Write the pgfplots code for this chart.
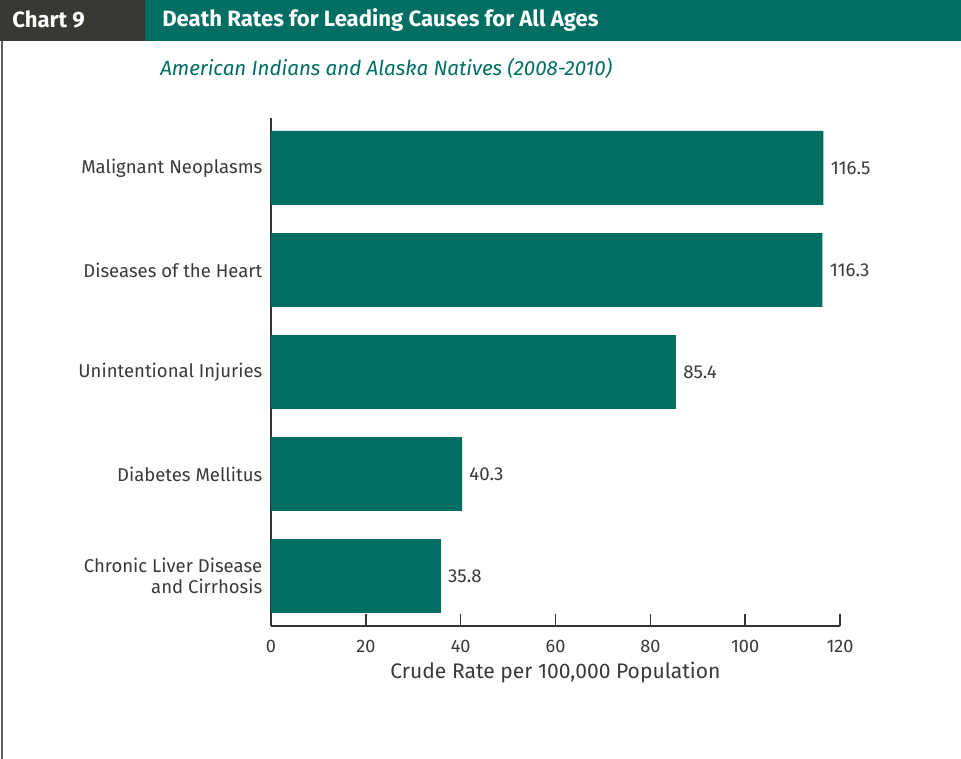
\documentclass[border=0pt]{standalone}
\usepackage{fontspec}
\setmainfont{Fira Sans}
\usepackage{pgfplots}
\pgfplotsset{compat=1.18}
\definecolor{teal}{HTML}{006E62}
\definecolor{darkbox}{HTML}{393833}
\definecolor{txt}{HTML}{3A3A3A}
\definecolor{axl}{HTML}{333333}
\begin{document}
\begin{tikzpicture}
\begin{scope}[x=0.75pt,y=0.75pt]
\useasboundingbox (0,0) rectangle (961,759);
\fill[white] (0,0) rectangle (961,759);
% header
\fill[darkbox] (0,718) rectangle (145,759);
\fill[teal] (145,718) rectangle (961,759);
\node[anchor=west,text=white,font=\fontsize{16.6}{20}\selectfont\bfseries,inner sep=0pt] at (12,739.5) {Chart 9};
\node[anchor=west,text=white,font=\fontsize{16.6}{20}\selectfont\bfseries,inner sep=0pt] at (162,739.5) {Death Rates for Leading Causes for All Ages};
\node[anchor=west,text=teal,font=\fontsize{15.4}{18}\selectfont\itshape,inner sep=0pt] at (160,691) {American Indians and Alaska Natives (2008-2010)};
% left border
\draw[color=axl!80,line width=1.5pt] (2,0) -- (2,718);
\end{scope}
\begin{axis}[
  at={(203.25pt,99.75pt)}, anchor=south west,
  scale only axis,
  width=426.75pt, height=381pt,
  xmin=0, xmax=120, ymin=-0.49, ymax=4.49,
  axis x line*=bottom, axis y line*=left,
  axis line style={color=axl,line width=1.1pt,-},
  xtick={0,20,40,60,80,100,120},
  tick align=inside,
  major tick length=9pt,
  xtick style={color=axl,line width=1.1pt},
  ytick={0,1,2,3,4},
  ytick style={draw=none},
  yticklabels={{Chronic Liver Disease\\and Cirrhosis},Diabetes Mellitus,Unintentional Injuries,Diseases of the Heart,Malignant Neoplasms},
  yticklabel style={align=right,font=\fontsize{13.9}{16.3}\selectfont,text=txt,xshift=6pt},
  xticklabel style={font=\fontsize{13.6}{16}\selectfont,text=txt,yshift=-6.75pt},
  /pgf/number format/assume math mode=true,
  xlabel={Crude Rate per 100,000 Population},
  xlabel style={font=\fontsize{15.8}{18}\selectfont,text=txt,yshift=-0.75pt},
  xbar, bar width=0.725,
  nodes near coords,
  every node near coord/.append style={font=\fontsize{14}{16}\selectfont,text=txt,anchor=west,xshift=2pt},
  nodes near coords style={/pgf/number format/.cd,fixed,fixed zerofill,precision=1,assume math mode=true},
  clip=false,
]
\addplot[fill=teal,draw=none] coordinates {(35.8,0) (40.3,1) (85.4,2) (116.3,3) (116.5,4)};
\end{axis}
\end{tikzpicture}
\end{document}
